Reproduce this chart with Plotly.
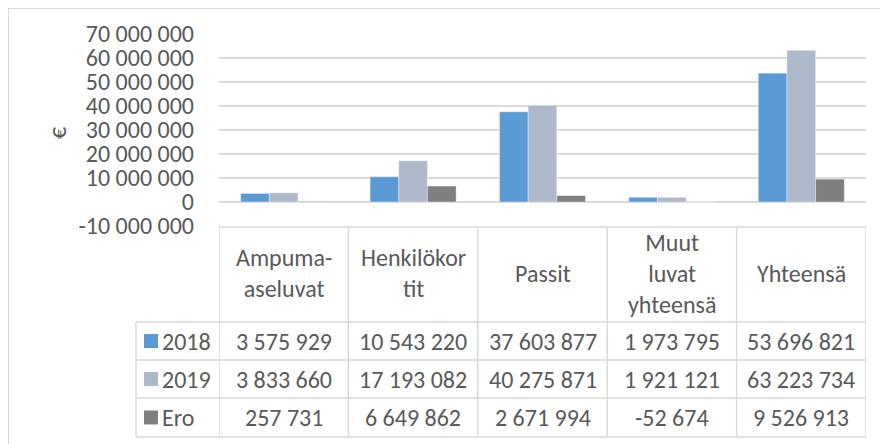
import plotly.graph_objects as go

categories = ["Ampuma-<br>aseluvat", "Henkilökor<br>tit", "Passit", "Muut<br>luvat<br>yhteensä", "Yhteensä"]
series_names = ["2018", "2019", "Ero"]
v2018 = [3575929, 10543220, 37603877, 1973795, 53696821]
v2019 = [3833660, 17193082, 40275871, 1921121, 63223734]
vero = [257731, 6649862, 2671994, -52674, 9526913]
tick_vals = [-10000000, 0, 10000000, 20000000, 30000000, 40000000, 50000000, 60000000, 70000000]
tick_text = ["-10 000 000", "0", "10 000 000", "20 000 000", "30 000 000",
             "40 000 000", "50 000 000", "60 000 000", "70 000 000"]
colors = ["#5B9BD5", "#ADB9CA", "#7F7F7F"]

# page body has an 8px margin: work in screen pixels and subtract it
OFF = 8
W, H = 888 - OFF, 444 - OFF
L, R = 219, 866
T, B = 34, 226
FONT = "Carlito, Lato, 'Liberation Sans', sans-serif"
FS = 24
TXT = "#595959"
GRID = "#D9D9D9"


def px(X):
    return (X - L) / (R - L)


def py(Y):
    return (B - Y) / (B - T)


def fmt(v):
    return f"{v:,}".replace(",", " ")


fig = go.Figure()
for name, vals, c in zip(series_names, [v2018, v2019, vero], colors):
    fig.add_trace(go.Bar(x=list(range(len(categories))), y=vals, name=name,
                         marker=dict(color=c, line=dict(color="rgba(255,255,255,0.5)", width=0.75))))

shapes = []
# outer chart border
shapes.append(dict(type="rect", xref="paper", yref="paper", x0=px(8.5), x1=px(900), y0=py(8.5), y1=py(460),
                   line=dict(color=GRID, width=1.2), fillcolor="rgba(0,0,0,0)", layer="below"))
# table horizontal lines
for Y, x0 in [(227, 219), (322, 136), (360, 136), (398, 136), (437, 136)]:
    shapes.append(dict(type="line", xref="paper", yref="paper", x0=px(x0), x1=px(866),
                       y0=py(Y), y1=py(Y), line=dict(color=GRID, width=1.5)))
# table vertical lines
shapes.append(dict(type="line", xref="paper", yref="paper", x0=px(136), x1=px(136),
                   y0=py(322), y1=py(437), line=dict(color=GRID, width=1.5)))
for i in range(len(categories) + 1):
    shapes.append(dict(type="line", xref="x", yref="paper", x0=i - 0.5, x1=i - 0.5,
                       y0=py(227), y1=py(437), line=dict(color=GRID, width=1.5)))

annotations = []
# header
for i, c in enumerate(categories):
    annotations.append(dict(x=i, xref="x", y=py(273), yref="paper", text=c, showarrow=False,
                            font=dict(family=FONT, size=FS, color=TXT), align="center",
                            xanchor="center", yanchor="middle"))
row_centers = [341, 379, 417.5]
for name, vals, c, yc in zip(series_names, [v2018, v2019, vero], colors, row_centers):
    shapes.append(dict(type="rect", xref="paper", yref="paper", x0=px(144), x1=px(158),
                       y0=py(yc - 7), y1=py(yc + 7), fillcolor=c, line=dict(width=0)))
    annotations.append(dict(x=px(160), xref="paper", y=py(yc), yref="paper", text=name, showarrow=False,
                            font=dict(family=FONT, size=FS, color=TXT), xanchor="left", yanchor="middle"))
    for i, v in enumerate(vals):
        annotations.append(dict(x=i, xref="x", y=py(yc), yref="paper", text=fmt(v), showarrow=False,
                                font=dict(family=FONT, size=FS, color=TXT), xanchor="center", yanchor="middle"))
# y axis title
annotations.append(dict(x=px(57), xref="paper", y=py(133), yref="paper", text="€", showarrow=False,
                        textangle=-90, font=dict(family=FONT, size=FS, color=TXT),
                        xanchor="center", yanchor="middle"))

fig.update_layout(
    width=W, height=H,
    margin=dict(l=L - OFF, r=888 - R, t=T - OFF, b=444 - B, pad=0),
    paper_bgcolor="white", plot_bgcolor="white",
    barmode="group", bargap=0.335, bargroupgap=0,
    showlegend=False,
    font=dict(family=FONT, size=FS, color=TXT),
    xaxis=dict(range=[-0.5, len(categories) - 0.5], showticklabels=False, showgrid=False,
               zeroline=False, showline=False, fixedrange=True),
    yaxis=dict(range=[-10000000, 70000000], tickvals=tick_vals, ticktext=tick_text,
               showgrid=True, gridcolor=GRID, gridwidth=1.5, zeroline=False, showline=False,
               ticklabelstandoff=24, tickfont=dict(family=FONT, size=FS, color=TXT), fixedrange=True),
    shapes=shapes, annotations=annotations,
)
fig.write_html("out.html")
